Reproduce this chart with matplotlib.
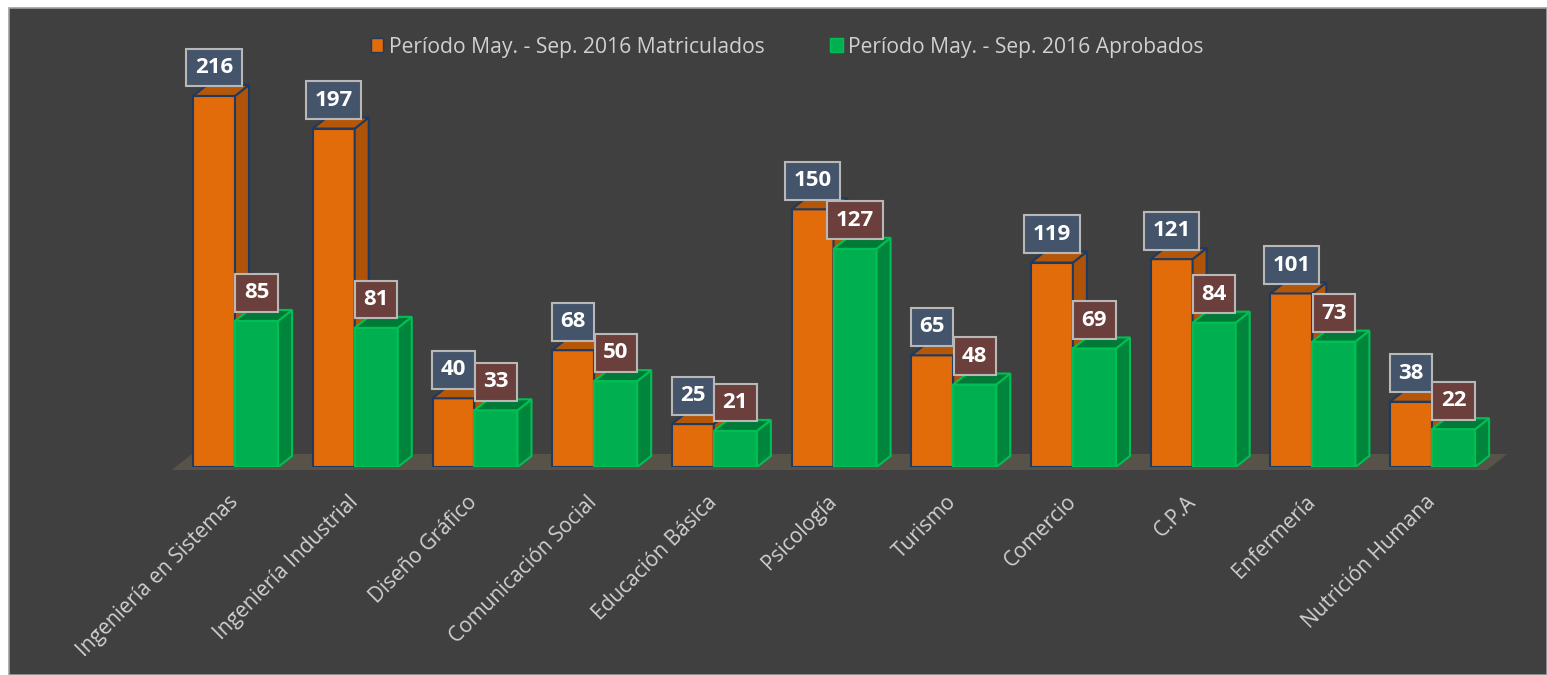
import matplotlib
matplotlib.use("Agg")
import matplotlib.pyplot as plt
from matplotlib.patches import Polygon, Rectangle, Patch

plt.rcParams['font.family'] = ['Open Sans', 'DejaVu Sans']

# datos del periodo May. - Sep. 2016
carreras = ["Ingeniería en Sistemas", "Ingeniería Industrial", "Diseño Gráfico",
            "Comunicación Social", "Educación Básica", "Psicología", "Turismo",
            "Comercio", "C.P.A", "Enfermería", "Nutrición Humana"]
matriculados = [216, 197, 40, 68, 25, 150, 65, 119, 121, 101, 38]
aprobados = [85, 81, 33, 50, 21, 127, 48, 69, 84, 73, 22]
serie_mat = "Período May. - Sep. 2016 Matriculados"
serie_apr = "Período May. - Sep. 2016 Aprobados"

W, H = 1547, 675
fig = plt.figure(figsize=(W / 100, H / 100), dpi=100, facecolor="white")

# panel oscuro de fondo
fig.patches.append(Rectangle((9 / W, 0), 1 - 9 / W, 1 - 8 / H, transform=fig.transFigure,
                             facecolor="#404040", edgecolor="#A0A0A0", linewidth=1.2, zorder=-10))

step = 119.7  # px por categoria
x0, x1 = -0.8, 10.6
left_px = 235 + x0 * step
base_px = 467
top_px = 20
ymax = (base_px - top_px) / 1.718
ax = fig.add_axes([left_px / W, (H - base_px) / H, (x1 - x0) * step / W, (base_px - top_px) / H])
ax.set_xlim(x0, x1)
ax.set_ylim(0, ymax)
ax.patch.set_alpha(0)
for s in ax.spines.values():
    s.set_visible(False)
ax.set_yticks([])

# profundidad del efecto 3D
dx = 14 / step
dy = 11 / 1.718

# piso
fy0, fy1 = -3 / 1.718, 13 / 1.718
floor = Polygon([(-0.53, fy0), (10.46, fy0), (10.63, fy1), (-0.36, fy1)],
                closed=True, facecolor="#585349", edgecolor="none", clip_on=False, zorder=1)
ax.add_patch(floor)


def bar3d(xl, w, h, front, side, top, edge, z):
    ax.add_patch(Polygon([(xl, 0), (xl + w, 0), (xl + w, h), (xl, h)], closed=True,
                         facecolor=front, edgecolor=edge, linewidth=1.5, zorder=z))
    ax.add_patch(Polygon([(xl + w, 0), (xl + w + dx, dy), (xl + w + dx, h + dy), (xl + w, h)],
                         closed=True, facecolor=side, edgecolor=edge, linewidth=1.5, zorder=z))
    ax.add_patch(Polygon([(xl, h), (xl + w, h), (xl + w + dx, h + dy), (xl + dx, h + dy)],
                         closed=True, facecolor=top, edgecolor=edge, linewidth=1.5, zorder=z))


wo, wg = 0.35, 0.36
for i in range(len(carreras)):
    bar3d(i - wo, wo, matriculados[i], "#E36C0A", "#AF5309", "#B55709", "#1F3A60", 2 + i * 0.01)
    bar3d(i, wg, aprobados[i], "#00B050", "#00853C", "#007A36", "#00C055", 3 + i * 0.01)

for i in range(len(carreras)):
    ax.text(i - wo / 2, matriculados[i] + dy + 4.0, str(matriculados[i]), ha="center", va="bottom",
            color="white", fontsize=16, fontweight="bold", zorder=10,
            bbox=dict(boxstyle="square,pad=0.38", facecolor="#44546A", edgecolor="#B8B8B8",
                      linewidth=1.5))
    ax.text(i + wg / 2, aprobados[i] + dy + 4.0, str(aprobados[i]), ha="center", va="bottom",
            color="white", fontsize=16, fontweight="bold", zorder=11,
            bbox=dict(boxstyle="square,pad=0.38", facecolor="#6B3F3C", edgecolor="#B8B8B8",
                      linewidth=1.5))

ax.set_xticks(range(len(carreras)))
ax.set_xticklabels(carreras, rotation=45, ha="right", va="center", rotation_mode="anchor",
                   color="#D0D0D0", fontsize=15)
ax.tick_params(axis="x", length=0, pad=23)

handles = [Patch(facecolor="#E36C0A", edgecolor="#1F3A60", label=serie_mat),
           Patch(facecolor="#00B050", edgecolor="#00C055", label=serie_apr)]
fig.legend(handles=handles, loc="center", bbox_to_anchor=(787 / W, 1 - 47 / H), ncol=2,
           frameon=False, fontsize=15.2, labelcolor="#D0D0D0", handlelength=0.6,
           handleheight=0.6, handletextpad=0.25, columnspacing=3.1)

fig.savefig("out.png", dpi=100, facecolor="white")
